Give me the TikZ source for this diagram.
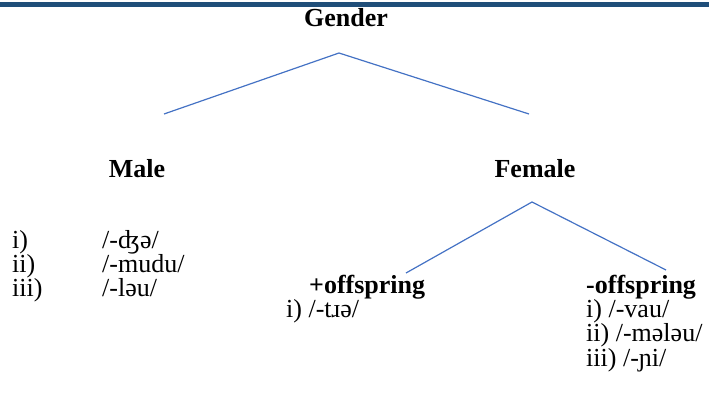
\documentclass[tikz,border=0pt]{standalone}
\usepackage{fontspec}
\setmainfont{Liberation Serif}
\definecolor{lineblue}{RGB}{68,114,196}
\definecolor{rulebar}{RGB}{31,78,121}
\begin{document}
\begin{tikzpicture}[x=1pt, y=-1pt,
    branch/.style={draw=lineblue, line width=1.2pt},
    head/.style={font=\fontsize{26}{30}\selectfont\bfseries, inner sep=0pt, anchor=base},
    item/.style={font=\fontsize{26}{23}\selectfont, inner sep=0pt, anchor=base west},
    column/.style={item, align=left, anchor=north west}]
  \useasboundingbox (0,0) rectangle (709,412);
  % top rule
  \fill[rulebar] (0,2) rectangle (709,7);
  % tree
  \node[head] (gender) at (346,27) {Gender};
  \coordinate (gtop) at (339,53);
  \coordinate (gleft) at (164,114);
  \coordinate (gright) at (529,114);
  \draw[branch] (gleft) -- (gtop) -- (gright);
  \node[head] (male) at (137,177) {Male};
  \node[head] (female) at (535,177) {Female};
  \coordinate (ftop) at (532,202);
  \coordinate (fleft) at (406,273);
  \coordinate (fright) at (666,270);
  \draw[branch] (fleft) -- (ftop) -- (fright);
  % male suffixes
  \node[column, font=\fontsize{26}{24}\selectfont] (mnum) at (12,230) {i)\\ii)\\iii)};
  \node[column, font=\fontsize{26}{24}\selectfont] (msuf) at (102,230) {/-ʤə/\\/-mudu/\\/-ləu/};
  % female suffixes
  \node[head, anchor=base west] (plus) at (309,293) {+offspring};
  \node[item] (psuf) at (286,317) {i) /-tɹə/};
  \node[head, anchor=base west] (minus) at (586,293) {-offspring};
  \node[column] (nsuf) at (586,299) {i) /-vau/\\ii) /-mələu/\\iii) /-ɲi/};
\end{tikzpicture}
\end{document}
